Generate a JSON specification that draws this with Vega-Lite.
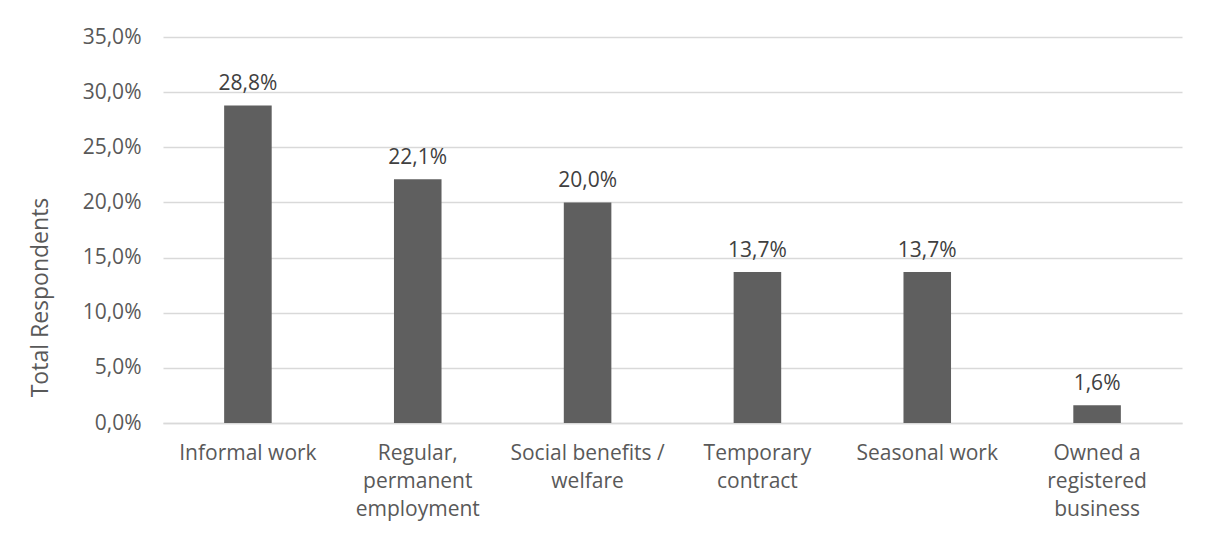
{
  "$schema": "https://vega.github.io/schema/vega-lite/v6.json",
  "width": 1019,
  "height": 386,
  "autosize": {"type": "none"},
  "padding": {"left": 163, "top": 37, "right": 23, "bottom": 116},
  "background": "white",
  "config": {
    "locale": {"number": {"decimal": ",", "thousands": ".", "grouping": [3], "currency": ["", " €"]}},
    "view": {"stroke": null},
    "font": "Open Sans",
    "axis": {"labelFont": "Open Sans", "titleFont": "Open Sans", "labelColor": "#595959", "titleColor": "#595959"}
  },
  "data": {
    "values": [
      {"category": "Informal work", "value": 0.288},
      {"category": "Regular, permanent employment", "value": 0.221},
      {"category": "Social benefits / welfare", "value": 0.200},
      {"category": "Temporary contract", "value": 0.137},
      {"category": "Seasonal work", "value": 0.137},
      {"category": "Owned a registered business", "value": 0.016}
    ]
  },
  "encoding": {
    "x": {
      "field": "category",
      "type": "nominal",
      "sort": null,
      "scale": {"paddingInner": 0.72, "paddingOuter": 0.36},
      "axis": {
        "title": null,
        "labelAngle": 0,
        "labelFontSize": 21,
        "labelLineHeight": 28,
        "labelPadding": 19,
        "ticks": false,
        "domainColor": "#d9d9d9",
        "domainWidth": 1.5,
        "labelExpr": "datum.value == 'Regular, permanent employment' ? ['Regular,', 'permanent', 'employment'] : datum.value == 'Social benefits / welfare' ? ['Social benefits /', 'welfare'] : datum.value == 'Temporary contract' ? ['Temporary', 'contract'] : datum.value == 'Owned a registered business' ? ['Owned a', 'registered', 'business'] : datum.value"
      }
    },
    "y": {
      "field": "value",
      "type": "quantitative",
      "scale": {"domain": [0, 0.35]},
      "axis": {
        "title": "Total Respondents",
        "titleFontSize": 23,
        "titleFontWeight": "normal",
        "titleX": -123,
        "titleY": 260,
        "titleAngle": -90,
        "titleAlign": "center",
        "titleBaseline": "middle",
        "format": ".1%",
        "values": [0, 0.05, 0.1, 0.15, 0.2, 0.25, 0.3, 0.35],
        "labelFontSize": 21,
        "labelPadding": 22,
        "ticks": false,
        "domain": false,
        "gridColor": "#d9d9d9",
        "gridWidth": 1.5
      }
    }
  },
  "layer": [
    {"mark": {"type": "bar", "color": "#5f5f5f"}},
    {
      "mark": {"type": "text", "baseline": "bottom", "dy": -11, "fontSize": 21, "color": "#404040", "font": "Open Sans"},
      "encoding": {"text": {"field": "value", "type": "quantitative", "format": ".1%"}}
    }
  ]
}
